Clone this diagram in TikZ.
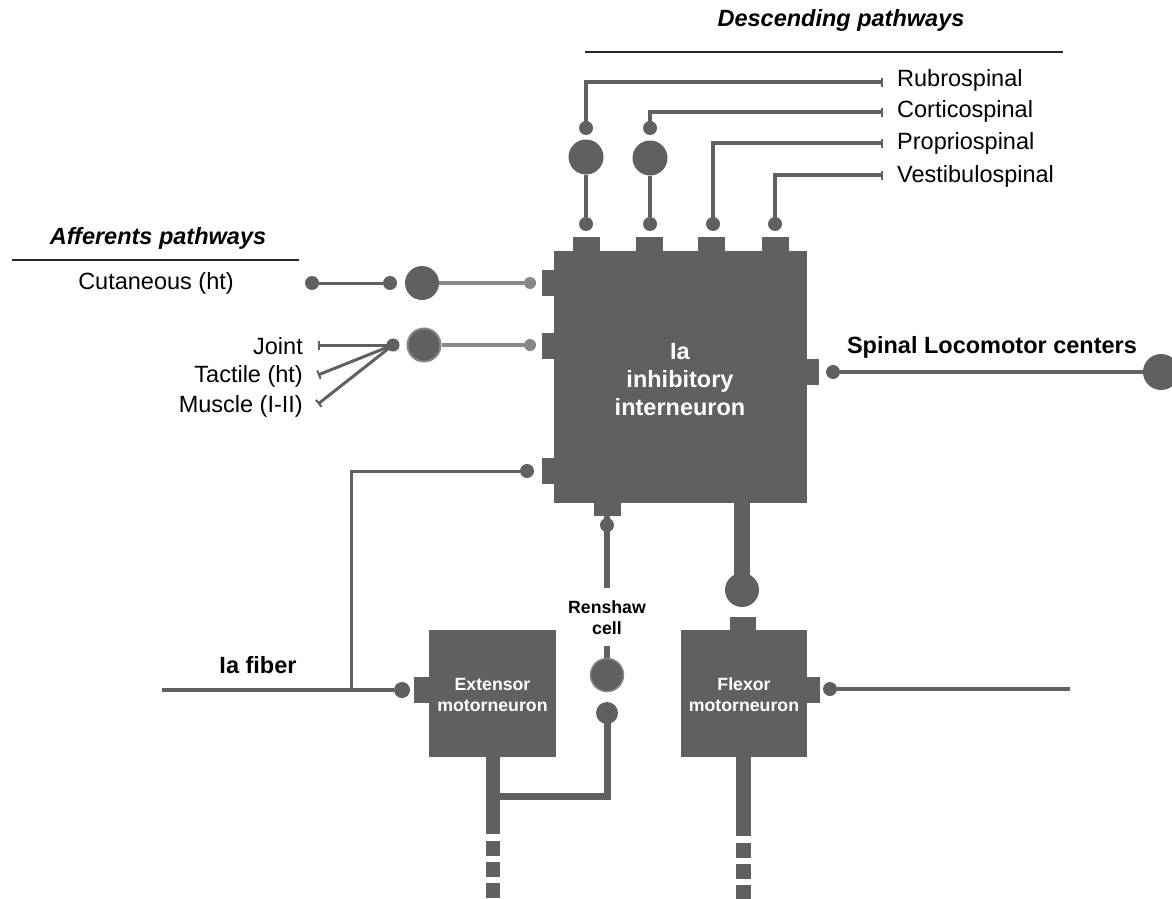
\documentclass[tikz,border=0pt]{standalone}
\usepackage{fontspec}
\setmainfont{Liberation Sans}
\usetikzlibrary{arrows.meta}
\definecolor{g}{RGB}{96,96,96}
\definecolor{lg}{RGB}{135,135,135}
\definecolor{tl}{RGB}{40,40,40}
\begin{document}
\begin{tikzpicture}[x=1pt,y=-1pt,
  cell/.style={rectangle, fill=g, inner sep=0pt, outer sep=0pt},
  knob/.style={circle, fill=g, inner sep=0pt, minimum size=14pt},
  lknob/.style={circle, fill=lg, inner sep=0pt, minimum size=12pt},
  soma/.style={circle, fill=g, inner sep=0pt, minimum size=34pt},
  wire/.style={draw=g, line width=4pt},
  thinwire/.style={draw=g, line width=3pt},
  lwire/.style={draw=lg, line width=4pt},
  lbl/.style={font=\fontsize{23.5}{28}\selectfont, text=black, inner sep=0pt},
  blbl/.style={font=\fontsize{23.5}{28}\selectfont\bfseries, text=black, inner sep=0pt},
  ttl/.style={font=\fontsize{23.5}{28}\selectfont\bfseries\itshape, text=black, inner sep=0pt},
  wtxt/.style={text=white, font=\fontsize{23.5}{28}\selectfont\bfseries, align=center, inner sep=0pt},
  stxt/.style={font=\fontsize{17.7}{21}\selectfont\bfseries, align=center, inner sep=0pt},
  rulel/.style={draw=tl, line width=1.5pt},
  bartip/.style={-{Bar[width=9pt,line width=2pt]}},
  tipbar/.style={{Bar[width=9pt,line width=2pt]}-}
]
\useasboundingbox (0,0) rectangle (1172,899);

% ---------- Ia inhibitory interneuron ----------
\node[cell, minimum width=253pt, minimum height=252pt] (ia) at (680.5,377) {};
\node[wtxt] (iatxt) at (680,380) {Ia\\inhibitory\\interneuron};
\node[cell, minimum width=27pt, minimum height=16pt] (t1) at (586.5,245) {};
\node[cell, minimum width=27pt, minimum height=16pt] (t2) at (649,245) {};
\node[cell, minimum width=27pt, minimum height=16pt] (t3) at (711.5,245) {};
\node[cell, minimum width=27pt, minimum height=16pt] (t4) at (775,245) {};
\node[cell, minimum width=14pt, minimum height=26pt] (tl1) at (549,283) {};
\node[cell, minimum width=14pt, minimum height=26pt] (tl2) at (549,346) {};
\node[cell, minimum width=14pt, minimum height=26pt] (tl3) at (549,471) {};
\node[cell, minimum width=14pt, minimum height=26pt] (tr) at (812,372) {};
\node[cell, minimum width=27pt, minimum height=14pt] (tb) at (607,508.5) {};

% ---------- Motorneurons ----------
\node[cell, minimum width=127pt, minimum height=127pt] (ext) at (492.5,693.5) {};
\node[stxt, text=white] (exttxt) at (492.5,695) {Extensor\\motorneuron};
\node[cell, minimum width=16pt, minimum height=26pt] (extl) at (422,690) {};
\node[cell, minimum width=126pt, minimum height=127pt] (flx) at (744,693.5) {};
\node[stxt, text=white] (flxtxt) at (744,695) {Flexor\\motorneuron};
\node[cell, minimum width=14pt, minimum height=26pt] (flxr) at (813,690) {};
\node[cell, minimum width=26pt, minimum height=14pt] (flxt) at (743,624) {};

% Ia interneuron axon to flexor
\node[soma] (fs) at (742,590) {};
\draw[draw=g, line width=16pt] (ia.south -| fs) -- (fs.center);

% Motor axons
\coordinate (eax) at (493,834);
\coordinate (ed0) at (493,841);
\coordinate (ed1) at (493,905);
\draw[draw=g, line width=14pt] (ext.south -| eax) -- (eax);
\draw[draw=g, line width=14pt, dash pattern=on 15pt off 6pt] (ed0) -- (ed1);
\coordinate (fax) at (743.5,836);
\coordinate (fd0) at (743.5,843);
\coordinate (fd1) at (743.5,905);
\draw[draw=g, line width=15pt] (flx.south -| fax) -- (fax);
\draw[draw=g, line width=15pt, dash pattern=on 15pt off 6pt] (fd0) -- (fd1);

% ---------- Renshaw cell ----------
\node[knob] (rk1) at (607,525) {};
\coordinate (rend) at (607,588);
\draw[draw=g, line width=6pt] (tb.south) -- (rk1.center) -- (rend);
\node[stxt] (rtxt) at (607,618) {Renshaw\\cell};
\node[soma, draw=lg, line width=1.5pt, minimum size=33pt] (rs) at (607,675) {};
\draw[draw=g, line width=6pt] (rs.north) -- ++(0,-12);
\node[knob, minimum size=22pt] (rk2) at (607,713) {};
\coordinate (rc) at (607,796);
\draw[draw=g, line width=7pt] (rk2.center) -- (rc) -- (rc -| eax);

% ---------- Ia fiber ----------
\coordinate (iaL) at (162,690);
\node[knob, minimum size=16pt] (iak) at (402,690) {};
\draw[wire] (iaL) -- (iak);
\coordinate (iaj) at (351,690);
\node[knob] (fbk) at (527,471) {};
\draw[thinwire] (iaj) |- (fbk);
\node[blbl] (iatitle) at (258,665) {Ia fiber};

% Flexor output
\node[knob] (fk) at (830,689) {};
\coordinate (fR) at (1070,689);
\draw[wire] (fk) -- (fR);

% ---------- Spinal locomotor centers ----------
\node[knob] (sk) at (833,372) {};
\node[soma, minimum size=36pt] (ss) at (1161,372) {};
\draw[wire] (sk) -- (ss);
\node[blbl] (sptxt) at (992,347) {Spinal Locomotor centers};

% ---------- Afferent pathways ----------
\node[ttl] (afft) at (158,238) {Afferents pathways};
\coordinate (ar0) at (12,260);
\coordinate (ar1) at (299,260);
\draw[rulel] (ar0) -- (ar1);
\node[lbl] (cut) at (156,283) {Cutaneous (ht)};
\node[knob] (a1) at (312,283) {};
\node[knob] (a2) at (390,283) {};
\node[soma] (s1) at (422,283) {};
\node[lknob] (a3) at (530,283) {};
\draw[thinwire] (a1) -- (a2);
\draw[lwire] (s1) -- (a3);

\node[knob, minimum size=13pt] (cv) at (393,345) {};
\node[soma, draw=lg, line width=2pt, minimum size=33pt] (s2) at (424,345) {};
\node[lknob] (a4) at (530,345) {};
\draw[lwire] (s2) -- (a4);
\coordinate (jt) at (318,345);
\coordinate (tt) at (318,375);
\coordinate (mt) at (318,404);
\draw[thinwire, tipbar] (jt) -- (cv.center);
\draw[thinwire, tipbar] (tt) -- (cv.center);
\draw[thinwire, tipbar] (mt) -- (cv.center);
\node[lbl, anchor=east] (jl) at (303,346) {Joint};
\node[lbl, anchor=east] (tlb) at (303,376) {Tactile (ht)};
\node[lbl, anchor=east] (ml) at (303,406) {Muscle (I-II)};

% ---------- Descending pathways ----------
\node[ttl] (dest) at (841,20) {Descending pathways};
\coordinate (dr0) at (585,52);
\coordinate (dr1) at (1063,52);
\draw[rulel] (dr0) -- (dr1);

\node[knob] (r1) at (586,128) {};
\node[soma, minimum size=35pt] (rso) at (586,157) {};
\node[knob] (r2) at (586,224) {};
\coordinate (re) at (883,82);
\draw[wire, bartip] (r1.center) |- (re);
\draw[wire] (rso) -- (r2);

\node[knob] (c1) at (650,128) {};
\node[soma, minimum size=35pt] (cso) at (650,158) {};
\node[knob] (c2) at (650,224) {};
\coordinate (ce) at (883,112);
\draw[wire, bartip] (c1.center) |- (ce);
\draw[wire] (cso) -- (c2);

\node[knob] (p2) at (713,224) {};
\coordinate (pe) at (883,143);
\draw[wire, bartip] (p2.center) |- (pe);

\node[knob] (v2) at (775,224) {};
\coordinate (ve) at (883,175);
\draw[wire, bartip] (v2.center) |- (ve);

\node[lbl, anchor=west] (rl) at (897,80) {Rubrospinal};
\node[lbl, anchor=west] (cl) at (897,111) {Corticospinal};
\node[lbl, anchor=west] (pl) at (897,143) {Propriospinal};
\node[lbl, anchor=west] (vl) at (897,176) {Vestibulospinal};
\end{tikzpicture}
\end{document}
